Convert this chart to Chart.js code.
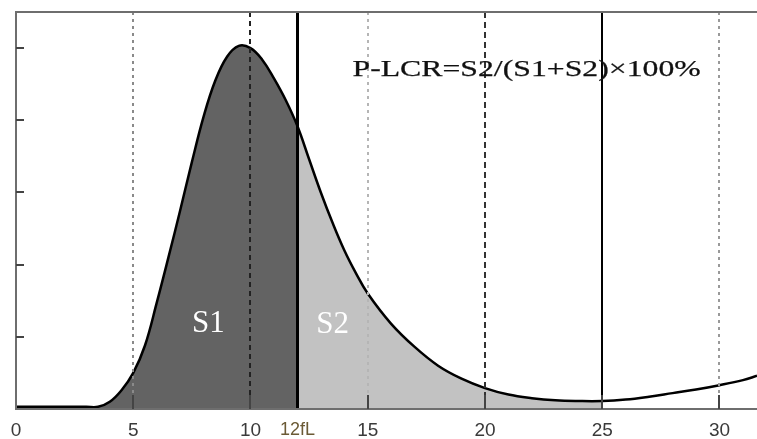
<!DOCTYPE html>
<html>
<head>
<meta charset="utf-8">
<script src="https://cdn.jsdelivr.net/npm/chart.js@4/dist/chart.umd.min.js"></script>
<style>
  html, body { margin: 0; padding: 0; background: #fff; }
  #wrap { width: 757px; height: 439px; }
</style>
</head>
<body>
<div id="wrap"><canvas id="plt" width="757" height="439"></canvas></div>
<script>
// platelet volume (fL) vs relative count
const volumes = [0, 1, 2, 3, 3.5, 4, 4.5, 5, 5.5, 6, 6.5, 7, 7.5, 8, 8.5, 9, 9.5, 10, 10.5, 11, 11.5, 12,
    12.5, 13, 13.5, 14, 14.5, 15, 16, 17, 18, 19, 20, 21, 22, 23, 24, 25, 26, 27, 28, 29, 30, 31, 31.6];
const counts = [0.03, 0.03, 0.03, 0.03, 0.03, 0.1, 0.26, 0.5, 0.88, 1.47, 2.1, 2.75, 3.42, 4.05, 4.55, 4.88, 5.03, 5.0, 4.84, 4.58, 4.28, 3.92,
    3.46, 3.0, 2.58, 2.2, 1.88, 1.6, 1.18, 0.86, 0.6, 0.42, 0.29, 0.2, 0.15, 0.12, 0.11, 0.11, 0.13, 0.17, 0.22, 0.27, 0.33, 0.4, 0.46];

const xTicks = [0, 5, 10, 12, 15, 20, 25, 30];
const xTickLabels = ['0', '5', '10', '12fL', '15', '20', '25', '30'];
const yTicks = [1, 2, 3, 4, 5];
const cutoff = 12;     // S1 | S2 boundary
const upperLimit = 25; // end of S2
const refLines = [5, 10, 12, 15, 20, 25, 30];

// styles for the vertical reference lines
const lineStyle = {
    5:  { color: '#8a8a8a', width: 2, dash: [3, 4] },
    10: { color: '#222', width: 2, dash: [5, 4] },
    12: { color: '#000', width: 3, dash: [] },
    15: { color: '#b5b5b5', width: 2, dash: [3, 4] },
    20: { color: '#333', width: 2, dash: [6, 4] },
    25: { color: '#000', width: 2, dash: [] },
    30: { color: '#999', width: 2, dash: [3, 4] }
};

const pts = volumes.map((v, i) => ({ x: v, y: counts[i] }));
const s1 = pts.filter(p => p.x <= cutoff);
const s2 = pts.filter(p => p.x >= cutoff && p.x <= upperLimit);

const decor = {
    id: 'decor',
    afterDatasetsDraw(chart) {
        const { ctx, chartArea: a, scales: { x, y } } = chart;
        ctx.save();

        // vertical reference lines
        refLines.forEach(v => {
            const st = lineStyle[v];
            const px = Math.round(x.getPixelForValue(v)) + (st.width % 2 ? 0.5 : 0);
            ctx.strokeStyle = st.color;
            ctx.lineWidth = st.width;
            ctx.setLineDash(st.dash);
            ctx.beginPath();
            ctx.moveTo(px, a.top);
            ctx.lineTo(px, a.bottom);
            ctx.stroke();
        });
        ctx.setLineDash([]);

        // frame
        ctx.strokeStyle = '#6e6e6e';
        ctx.lineWidth = 2;
        ctx.beginPath();
        ctx.moveTo(a.right, a.top);
        ctx.lineTo(a.left, a.top);
        ctx.lineTo(a.left, a.bottom);
        ctx.lineTo(a.right, a.bottom);
        ctx.stroke();

        // inner tick marks
        ctx.strokeStyle = '#444';
        ctx.beginPath();
        xTicks.filter(v => v > 0 && v !== cutoff).forEach(v => {
            const px = Math.round(x.getPixelForValue(v));
            ctx.moveTo(px, a.bottom);
            ctx.lineTo(px, a.bottom - 14);
        });
        yTicks.forEach(v => {
            const py = Math.round(y.getPixelForValue(v));
            ctx.moveTo(a.left, py);
            ctx.lineTo(a.left + 8, py);
        });
        ctx.stroke();

        // area labels
        ctx.fillStyle = '#fff';
        ctx.font = '31px "Liberation Serif", serif';
        ctx.textAlign = 'center';
        ctx.textBaseline = 'middle';
        ctx.fillText('S1', x.getPixelForValue(8.2), y.getPixelForValue(1.18));
        ctx.fillText('S2', x.getPixelForValue(13.5), y.getPixelForValue(1.16));

        // formula, stretched to the width it has in the picture
        const txt = 'P-LCR=S2/(S1+S2)×100%';
        ctx.font = '23px "Liberation Serif", serif';
        ctx.fillStyle = '#111';
        ctx.textAlign = 'left';
        ctx.lineWidth = 0.25;
        ctx.strokeStyle = '#111';
        const w = ctx.measureText(txt).width;
        const x0 = x.getPixelForValue(14.35);
        const x1 = x.getPixelForValue(29.2);
        ctx.translate(x0, y.getPixelForValue(4.7));
        ctx.scale((x1 - x0) / w, 1);
        ctx.fillText(txt, 0, 0);
        ctx.strokeText(txt, 0, 0);
        ctx.restore();
    }
};

new Chart(document.getElementById('plt'), {
    type: 'line',
    data: {
        datasets: [
            {
                label: 'curve', data: pts, borderColor: '#000', borderWidth: 2.5,
                pointRadius: 0, fill: false, tension: 0.4
            },
            {
                label: 'S1', data: s1, borderWidth: 0, borderColor: 'rgba(0,0,0,0)',
                backgroundColor: '#636363', pointRadius: 0, fill: 'origin', tension: 0.4
            },
            {
                label: 'S2', data: s2, borderWidth: 0, borderColor: 'rgba(0,0,0,0)',
                backgroundColor: '#c2c2c2', pointRadius: 0, fill: 'origin', tension: 0.4
            }
        ]
    },
    options: {
        responsive: false,
        animation: false,
        events: [],
        layout: { padding: { left: 16, top: 12, right: 0, bottom: 0 } },
        plugins: { legend: { display: false }, tooltip: { enabled: false } },
        scales: {
            x: {
                type: 'linear', min: 0, max: 31.6,
                grid: { display: false, drawTicks: false },
                border: { display: false },
                afterBuildTicks: s => { s.ticks = xTicks.map(v => ({ value: v })); },
                afterFit: s => { s.height = 30; },
                ticks: {
                    autoSkip: false, maxRotation: 0, padding: 10,
                    callback: v => xTickLabels[xTicks.indexOf(v)],
                    color: c => c.tick && c.tick.value === cutoff ? '#6b5a35' : '#3a3a3a',
                    font: c => ({ family: '"Liberation Sans", Arial, sans-serif',
                                  size: c.tick && c.tick.value === cutoff ? 18 : 19 })
                }
            },
            y: { display: false, min: 0, max: 5.5 }
        }
    },
    plugins: [decor]
});
</script>
</body>
</html>
